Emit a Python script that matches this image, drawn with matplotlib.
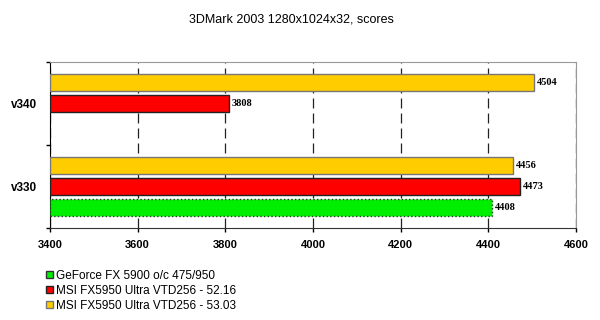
import matplotlib.pyplot as plt
import numpy as np
from matplotlib.patches import Patch

categories = ['v330', 'v340']
series_names = ['GeForce FX 5900 o/c 475/950',
                'MSI FX5950 Ultra VTD256 - 52.16',
                'MSI FX5950 Ultra VTD256 - 53.03']
geforce = [4408, np.nan]
msi_5216 = [4473, 3808]
msi_5303 = [4456, 4504]
x_ticks = [3400, 3600, 3800, 4000, 4200, 4400, 4600]

colors = ['#00EE00', '#FF0000', '#FFCC00']
edges = ['#333333', '#222222', '#777777']
styles = [':', '-', '-']

fig = plt.figure(figsize=(6, 3.2), dpi=100)
ax = fig.add_axes([0.0833, 0.2875, 0.8767, 0.519])

y = np.arange(len(categories))
offsets = [-0.25, 0.0, 0.25]
for vals, off, c, e, ls in zip([geforce, msi_5216, msi_5303], offsets, colors, edges, styles):
    ax.barh(y + off, np.array(vals) - 3400, left=3400, height=0.2,
            color=c, edgecolor=e, linewidth=1.0, linestyle=ls, zorder=3)
    for yi, v in zip(y, vals):
        if not np.isnan(v):
            ax.text(v + 6, yi + off, f'{v:.0f}', va='center', ha='left',
                    fontsize=7.5, fontweight='bold', family='Liberation Serif')

ax.set_xlim(3400, 4600)
ax.set_ylim(-0.5, 1.5)
ax.set_xticks(x_ticks)
ax.set_xticklabels([str(t) for t in x_ticks], fontsize=8, fontweight='bold',
                   family='Liberation Sans')
ax.set_yticks(y)
ax.set_yticklabels(categories, fontsize=8.5, fontweight='bold', family='Liberation Sans')
ax.set_yticks([-0.5, 0.5, 1.5], minor=True)
ax.tick_params(axis='y', which='major', length=0, pad=9)
ax.tick_params(axis='y', which='minor', length=3, width=1, color='black')
ax.tick_params(axis='x', length=3, width=1, pad=6)
ax.xaxis.grid(True, linestyle=(0, (8, 4)), color='#222222', linewidth=0.9, zorder=1)

ax.spines['left'].set_color('black')
ax.spines['bottom'].set_color('#333333')
ax.spines['top'].set_color('#999999')
ax.spines['right'].set_color('#999999')

fig.text(291 / 600, 1 - 20 / 320, '3DMark 2003 1280x1024x32, scores', ha='center',
         va='center', fontsize=9, family='Liberation Sans')

handles = [Patch(facecolor=c, edgecolor=e) for c, e in zip(colors, edges)]
fig.legend(handles, series_names, loc='upper left', bbox_to_anchor=(0.068, 1 - 265 / 320),
           frameon=False, handlelength=0.6, handleheight=0.6,
           handletextpad=0.3, labelspacing=0.25, borderaxespad=0,
           prop={'family': 'Liberation Sans', 'size': 8.5})

fig.savefig('out.png', dpi=100)
